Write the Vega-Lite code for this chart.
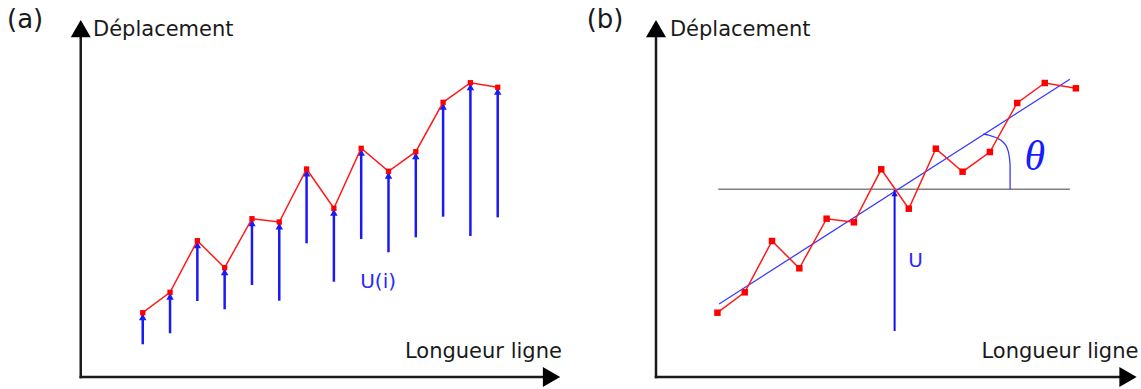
{
  "$schema": "https://vega.github.io/schema/vega-lite/v6.json",
  "padding": 0,
  "spacing": 0,
  "background": "white",
  "config": {"view": {"stroke": null}, "font": "DejaVu Sans"},
  "resolve": {"scale": {"x": "independent", "y": "independent"}},
  "datasets": {
    "ptsA": [
      {"i": 1, "d": 6.43, "base": 3.27},
      {"i": 2, "d": 8.47, "base": 4.37},
      {"i": 3, "d": 13.63, "base": 7.6},
      {"i": 4, "d": 10.93, "base": 6.77},
      {"i": 5, "d": 15.83, "base": 9.2},
      {"i": 6, "d": 15.5, "base": 7.63},
      {"i": 7, "d": 20.8, "base": 13.37},
      {"i": 8, "d": 16.87, "base": 9.53},
      {"i": 9, "d": 22.87, "base": 13.8},
      {"i": 10, "d": 20.57, "base": 12.47},
      {"i": 11, "d": 22.53, "base": 13.97},
      {"i": 12, "d": 27.47, "base": 16.03},
      {"i": 13, "d": 29.43, "base": 14.1},
      {"i": 14, "d": 28.97, "base": 15.97}
    ],
    "ptsB": [
      {"i": 0.99, "d": 6.43},
      {"i": 1.99, "d": 8.47},
      {"i": 2.99, "d": 13.6},
      {"i": 3.99, "d": 10.87},
      {"i": 4.99, "d": 15.83},
      {"i": 5.99, "d": 15.47},
      {"i": 6.99, "d": 20.77},
      {"i": 8.0, "d": 16.83},
      {"i": 8.99, "d": 22.83},
      {"i": 9.97, "d": 20.53},
      {"i": 10.97, "d": 22.5},
      {"i": 11.97, "d": 27.4},
      {"i": 12.98, "d": 29.4},
      {"i": 14.12, "d": 28.87}
    ],
    "axesA": [
      {"x": -1.27, "y": 0, "x2": -1.27, "y2": 34.2},
      {"x": -1.27, "y": 0, "x2": 15.8, "y2": 0}
    ],
    "headsA": [
      {"x": -1.27, "y": 34.83, "dir": "up"},
      {"x": 15.97, "y": 0, "dir": "right"}
    ],
    "axesB": [
      {"x": -1.26, "y": 0, "x2": -1.26, "y2": 34.2},
      {"x": -1.26, "y": 0, "x2": 15.85, "y2": 0}
    ],
    "headsB": [
      {"x": -1.26, "y": 34.83, "dir": "up"},
      {"x": 16.03, "y": 0, "dir": "right"}
    ],
    "grayLine": [{"x": 1.02, "y": 18.77, "x2": 13.9, "y2": 18.77}],
    "fitLine": [{"x": 1.05, "y": 7.3, "x2": 13.9, "y2": 29.77}],
    "uArrow": [{"x": 7.48, "y": 4.6, "x2": 7.48, "y2": 18.7}],
    "arc": [
      {"k": 1, "x": 10.73, "y": 24.3},
      {"k": 2, "x": 10.97, "y": 24.15},
      {"k": 3, "x": 11.23, "y": 23.9},
      {"k": 4, "x": 11.45, "y": 23.5},
      {"k": 5, "x": 11.6, "y": 22.9},
      {"k": 6, "x": 11.67, "y": 22.2},
      {"k": 7, "x": 11.71, "y": 21.2},
      {"k": 8, "x": 11.71, "y": 18.77}
    ],
    "panelLabelA": [{"x": -3.97, "y": 34.9, "t": "(a)"}],
    "panelLabelB": [{"x": -3.8, "y": 34.9, "t": "(b)"}],
    "yTitleA": [{"x": -0.82, "y": 34.1, "t": "Déplacement"}],
    "yTitleB": [{"x": -0.75, "y": 34.1, "t": "Déplacement"}],
    "xTitleA": [{"x": 16.35, "y": 1.87, "t": "Longueur ligne"}],
    "xTitleB": [{"x": 16.41, "y": 1.87, "t": "Longueur ligne"}],
    "uiLabel": [{"x": 9.62, "y": 8.9, "t": "U(i)"}],
    "uLabel": [{"x": 8.25, "y": 11.03, "t": "U"}],
    "thetaLabel": [{"x": 12.62, "y": 20.7, "t": "θ"}]
  },
  "hconcat": [
    {
      "width": 575,
      "height": 389,
      "layer": [
        {
          "data": {"name": "axesA"},
          "mark": {"type": "rule", "color": "#1a1a1a", "strokeWidth": 2.5, "strokeCap": "square"},
          "encoding": {
            "x": {"field": "x", "type": "quantitative", "scale": {"domain": [-4.227, 16.83], "nice": false, "zero": false}, "axis": null},
            "y": {"field": "y", "type": "quantitative", "scale": {"domain": [-1.2, 37.7], "nice": false, "zero": false}, "axis": null},
            "x2": {"field": "x2"},
            "y2": {"field": "y2"}
          }
        },
        {
          "data": {"name": "headsA"},
          "mark": {"type": "point", "filled": true, "color": "#000000", "opacity": 1, "size": 400},
          "encoding": {
            "x": {"field": "x", "type": "quantitative"},
            "y": {"field": "y", "type": "quantitative"},
            "shape": {"field": "dir", "type": "nominal", "scale": {"domain": ["up", "right"], "range": ["triangle-up", "triangle-right"]}, "legend": null}
          }
        },
        {
          "data": {"name": "ptsA"},
          "mark": {"type": "rule", "color": "#1a1af5", "strokeWidth": 2.5},
          "encoding": {
            "x": {"field": "i", "type": "quantitative"},
            "y": {"field": "base", "type": "quantitative"},
            "y2": {"field": "d"}
          }
        },
        {
          "data": {"name": "ptsA"},
          "mark": {"type": "point", "shape": "triangle-up", "filled": true, "color": "#1a1af5", "opacity": 1, "size": 56, "yOffset": 4.2},
          "encoding": {
            "x": {"field": "i", "type": "quantitative"},
            "y": {"field": "d", "type": "quantitative"}
          }
        },
        {
          "data": {"name": "ptsA"},
          "mark": {"type": "line", "color": "#ff1a1a", "strokeWidth": 1.5},
          "encoding": {
            "x": {"field": "i", "type": "quantitative"},
            "y": {"field": "d", "type": "quantitative"}
          }
        },
        {
          "data": {"name": "ptsA"},
          "mark": {"type": "point", "shape": "square", "filled": true, "color": "#ff0000", "opacity": 1, "size": 28},
          "encoding": {
            "x": {"field": "i", "type": "quantitative"},
            "y": {"field": "d", "type": "quantitative"}
          }
        },
        {
          "data": {"name": "panelLabelA"},
          "mark": {"type": "text", "align": "left", "baseline": "alphabetic", "fontSize": 26, "color": "#1a1a1a"},
          "encoding": {
            "x": {"field": "x", "type": "quantitative"},
            "y": {"field": "y", "type": "quantitative"},
            "text": {"field": "t"}
          }
        },
        {
          "data": {"name": "yTitleA"},
          "mark": {"type": "text", "align": "left", "baseline": "alphabetic", "fontSize": 21, "color": "#1a1a1a"},
          "encoding": {
            "x": {"field": "x", "type": "quantitative"},
            "y": {"field": "y", "type": "quantitative"},
            "text": {"field": "t"}
          }
        },
        {
          "data": {"name": "xTitleA"},
          "mark": {"type": "text", "align": "right", "baseline": "alphabetic", "fontSize": 21, "color": "#1a1a1a"},
          "encoding": {
            "x": {"field": "x", "type": "quantitative"},
            "y": {"field": "y", "type": "quantitative"},
            "text": {"field": "t"}
          }
        },
        {
          "data": {"name": "uiLabel"},
          "mark": {"type": "text", "align": "center", "baseline": "alphabetic", "fontSize": 20, "color": "#2a2aff"},
          "encoding": {
            "x": {"field": "x", "type": "quantitative"},
            "y": {"field": "y", "type": "quantitative"},
            "text": {"field": "t"}
          }
        }
      ]
    },
    {
      "width": 566,
      "height": 389,
      "layer": [
        {
          "data": {"name": "axesB"},
          "mark": {"type": "rule", "color": "#1a1a1a", "strokeWidth": 2.5, "strokeCap": "square"},
          "encoding": {
            "x": {"field": "x", "type": "quantitative", "scale": {"domain": [-4.227, 16.505], "nice": false, "zero": false}, "axis": null},
            "y": {"field": "y", "type": "quantitative", "scale": {"domain": [-1.2, 37.7], "nice": false, "zero": false}, "axis": null},
            "x2": {"field": "x2"},
            "y2": {"field": "y2"}
          }
        },
        {
          "data": {"name": "headsB"},
          "mark": {"type": "point", "filled": true, "color": "#000000", "opacity": 1, "size": 400},
          "encoding": {
            "x": {"field": "x", "type": "quantitative"},
            "y": {"field": "y", "type": "quantitative"},
            "shape": {"field": "dir", "type": "nominal", "scale": {"domain": ["up", "right"], "range": ["triangle-up", "triangle-right"]}, "legend": null}
          }
        },
        {
          "data": {"name": "grayLine"},
          "mark": {"type": "rule", "color": "#808080", "strokeWidth": 1.6},
          "encoding": {
            "x": {"field": "x", "type": "quantitative"},
            "y": {"field": "y", "type": "quantitative"},
            "x2": {"field": "x2"},
            "y2": {"field": "y2"}
          }
        },
        {
          "data": {"name": "fitLine"},
          "mark": {"type": "rule", "color": "#3a3aff", "strokeWidth": 1.3},
          "encoding": {
            "x": {"field": "x", "type": "quantitative"},
            "y": {"field": "y", "type": "quantitative"},
            "x2": {"field": "x2"},
            "y2": {"field": "y2"}
          }
        },
        {
          "data": {"name": "arc"},
          "mark": {"type": "line", "color": "#3a3aff", "strokeWidth": 1.3, "interpolate": "monotone"},
          "encoding": {
            "x": {"field": "x", "type": "quantitative"},
            "y": {"field": "y", "type": "quantitative"},
            "order": {"field": "k", "type": "quantitative"}
          }
        },
        {
          "data": {"name": "uArrow"},
          "mark": {"type": "rule", "color": "#1010ee", "strokeWidth": 2},
          "encoding": {
            "x": {"field": "x", "type": "quantitative"},
            "y": {"field": "y", "type": "quantitative"},
            "y2": {"field": "y2"}
          }
        },
        {
          "data": {"name": "uArrow"},
          "mark": {"type": "point", "shape": "triangle-up", "filled": true, "color": "#1010ee", "opacity": 1, "size": 40, "yOffset": 3.5},
          "encoding": {
            "x": {"field": "x", "type": "quantitative"},
            "y": {"field": "y2", "type": "quantitative"}
          }
        },
        {
          "data": {"name": "ptsB"},
          "mark": {"type": "line", "color": "#ff1a1a", "strokeWidth": 1.5},
          "encoding": {
            "x": {"field": "i", "type": "quantitative"},
            "y": {"field": "d", "type": "quantitative"}
          }
        },
        {
          "data": {"name": "ptsB"},
          "mark": {"type": "point", "shape": "square", "filled": true, "color": "#ff0000", "opacity": 1, "size": 42},
          "encoding": {
            "x": {"field": "i", "type": "quantitative"},
            "y": {"field": "d", "type": "quantitative"}
          }
        },
        {
          "data": {"name": "panelLabelB"},
          "mark": {"type": "text", "align": "left", "baseline": "alphabetic", "fontSize": 26, "color": "#1a1a1a"},
          "encoding": {
            "x": {"field": "x", "type": "quantitative"},
            "y": {"field": "y", "type": "quantitative"},
            "text": {"field": "t"}
          }
        },
        {
          "data": {"name": "yTitleB"},
          "mark": {"type": "text", "align": "left", "baseline": "alphabetic", "fontSize": 21, "color": "#1a1a1a"},
          "encoding": {
            "x": {"field": "x", "type": "quantitative"},
            "y": {"field": "y", "type": "quantitative"},
            "text": {"field": "t"}
          }
        },
        {
          "data": {"name": "xTitleB"},
          "mark": {"type": "text", "align": "right", "baseline": "alphabetic", "fontSize": 21, "color": "#1a1a1a"},
          "encoding": {
            "x": {"field": "x", "type": "quantitative"},
            "y": {"field": "y", "type": "quantitative"},
            "text": {"field": "t"}
          }
        },
        {
          "data": {"name": "uLabel"},
          "mark": {"type": "text", "align": "center", "baseline": "alphabetic", "fontSize": 20, "color": "#2a2aff"},
          "encoding": {
            "x": {"field": "x", "type": "quantitative"},
            "y": {"field": "y", "type": "quantitative"},
            "text": {"field": "t"}
          }
        },
        {
          "data": {"name": "thetaLabel"},
          "mark": {"type": "text", "align": "center", "baseline": "alphabetic", "fontSize": 42, "font": "Liberation Serif", "fontStyle": "italic", "color": "#1a1aff"},
          "encoding": {
            "x": {"field": "x", "type": "quantitative"},
            "y": {"field": "y", "type": "quantitative"},
            "text": {"field": "t"}
          }
        }
      ]
    }
  ]
}
